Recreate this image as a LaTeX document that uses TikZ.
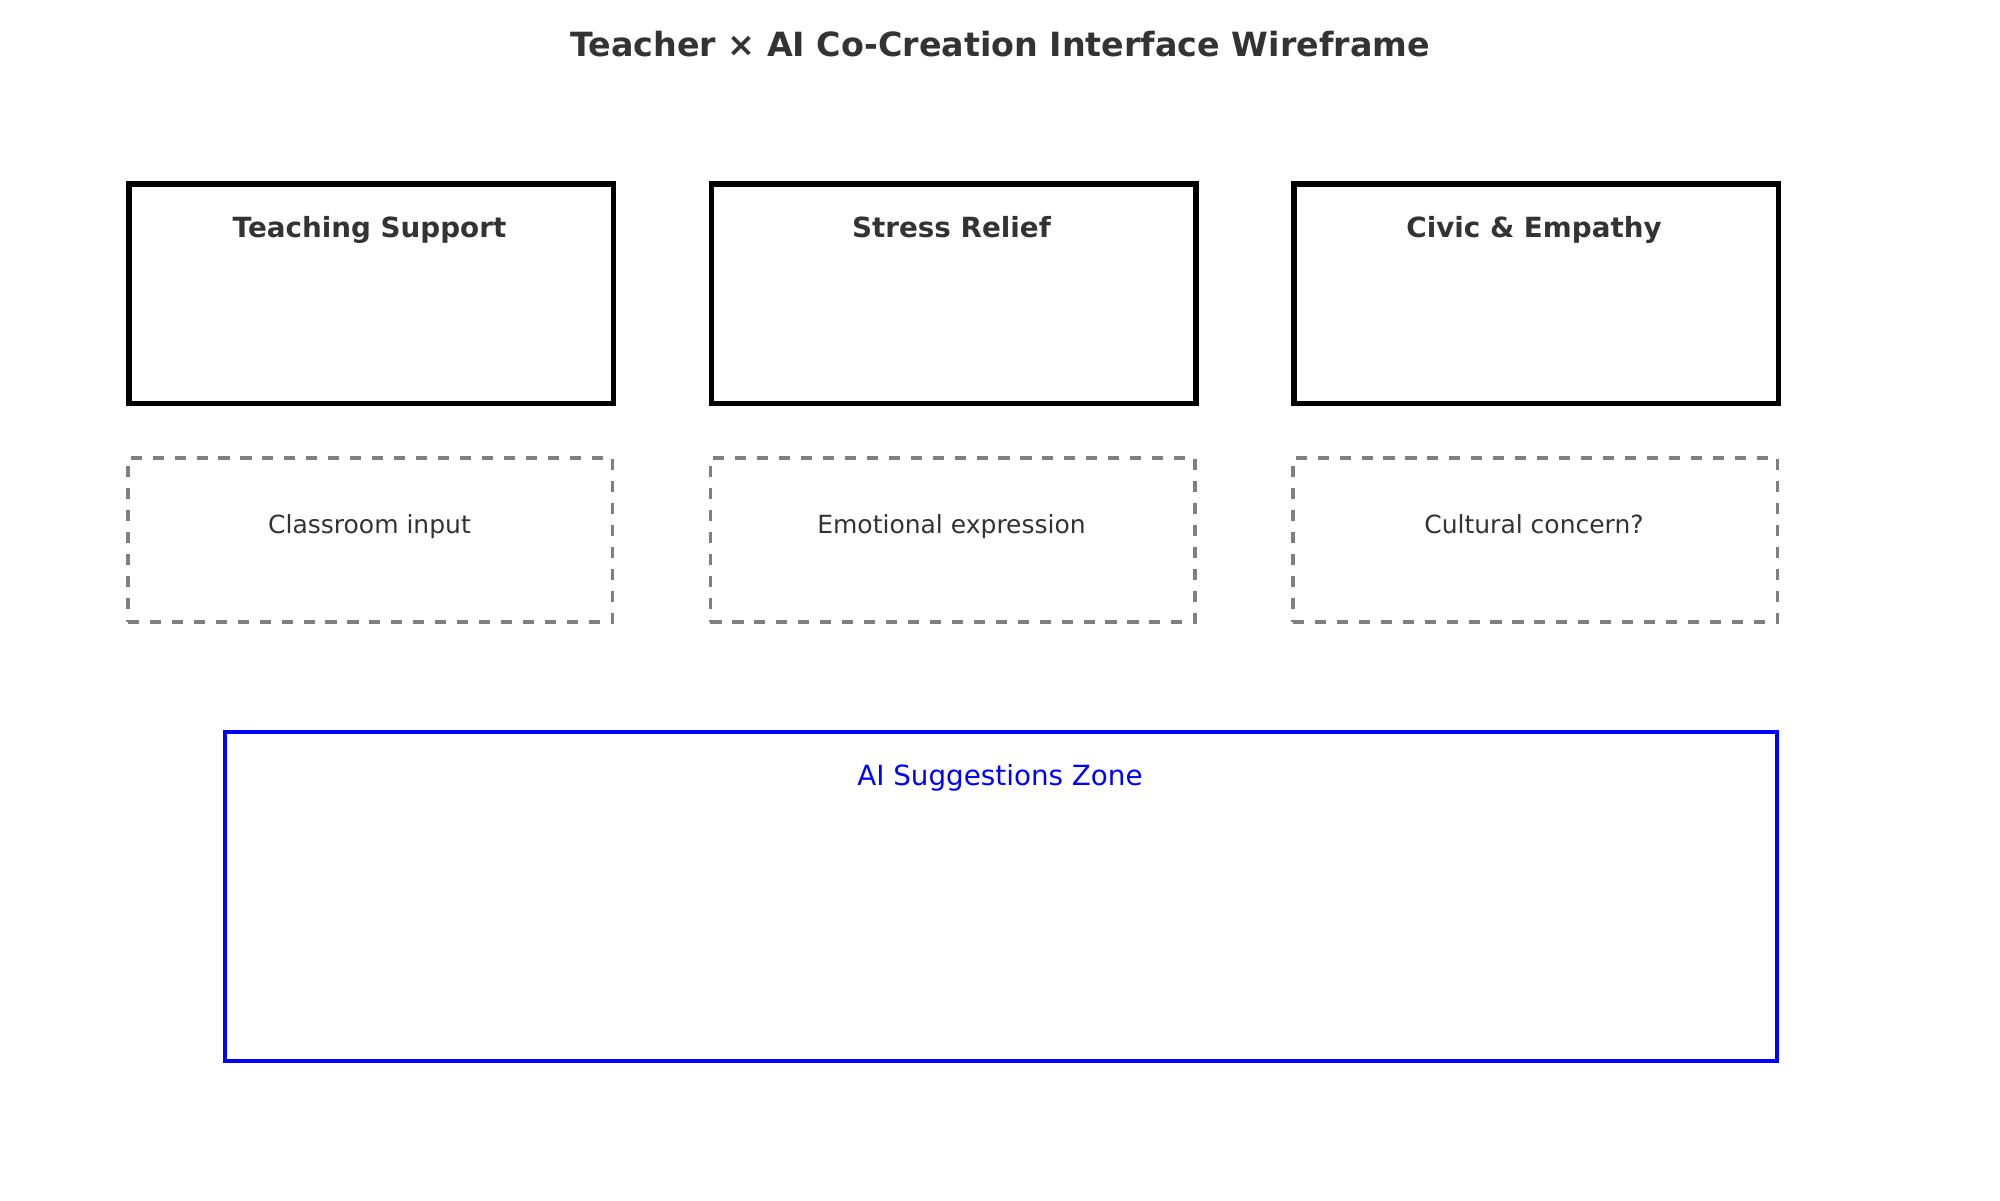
\documentclass[tikz,border=0pt]{standalone}
\usepackage{fontspec}
\setmainfont{DejaVu Sans}
\definecolor{txt}{HTML}{333333}
\definecolor{dashgray}{HTML}{808080}
\definecolor{aiblue}{HTML}{0000FF}
\begin{document}
\begin{tikzpicture}[x=0.36pt,y=-0.36pt,
  mainbox/.style={draw=black,line width=2pt,inner sep=0pt,anchor=north west,
    minimum width=484.5*0.36pt,minimum height=219.5*0.36pt},
  inputbox/.style={draw=dashgray,line width=1.4pt,dash pattern=on 4pt off 3.9pt,inner sep=0pt,anchor=north west,
    minimum width=484.5*0.36pt,minimum height=164*0.36pt},
  aibox/.style={draw=aiblue,line width=1.3pt,inner sep=0pt,anchor=north west,
    minimum width=1552*0.36pt,minimum height=329*0.36pt},
  titletext/.style={text=txt,font=\fontsize{12pt}{14pt}\selectfont\bfseries,anchor=base,inner sep=0pt},
  boxtitle/.style={text=txt,font=\fontsize{10pt}{12pt}\selectfont\bfseries,anchor=base,inner sep=0pt},
  inputtext/.style={text=txt,font=\fontsize{9pt}{11pt}\selectfont,anchor=base,inner sep=0pt},
  aitext/.style={text=aiblue,font=\fontsize{10pt}{12pt}\selectfont,anchor=base,inner sep=0pt}]
\useasboundingbox[fill=white] (0,0) rectangle (2000,1200);

\node[titletext] (title) at (1000,56) {Teacher × AI Co-Creation Interface Wireframe};

\node[mainbox] (b1) at (126,181) {};
\node[mainbox] (b2) at (708.5,181) {};
\node[mainbox] (b3) at (1291,181) {};
\node[boxtitle] (t1) at (369.5,237) {Teaching Support};
\node[boxtitle] (t2) at (951.5,237) {Stress Relief};
\node[boxtitle] (t3) at (1534,237) {Civic \& Empathy};

\node[inputbox] (d1) at (126,456) {};
\node[inputbox] (d2) at (708.5,456) {};
\node[inputbox] (d3) at (1291,456) {};
\node[inputtext] (i1) at (369.5,533) {Classroom input};
\node[inputtext] (i2) at (951.5,533) {Emotional expression};
\node[inputtext] (i3) at (1534,533) {Cultural concern?};

\node[aibox] (ai) at (223,730) {};
\node[aitext] (ait) at (1000,785) {AI Suggestions Zone};
\end{tikzpicture}
\end{document}
